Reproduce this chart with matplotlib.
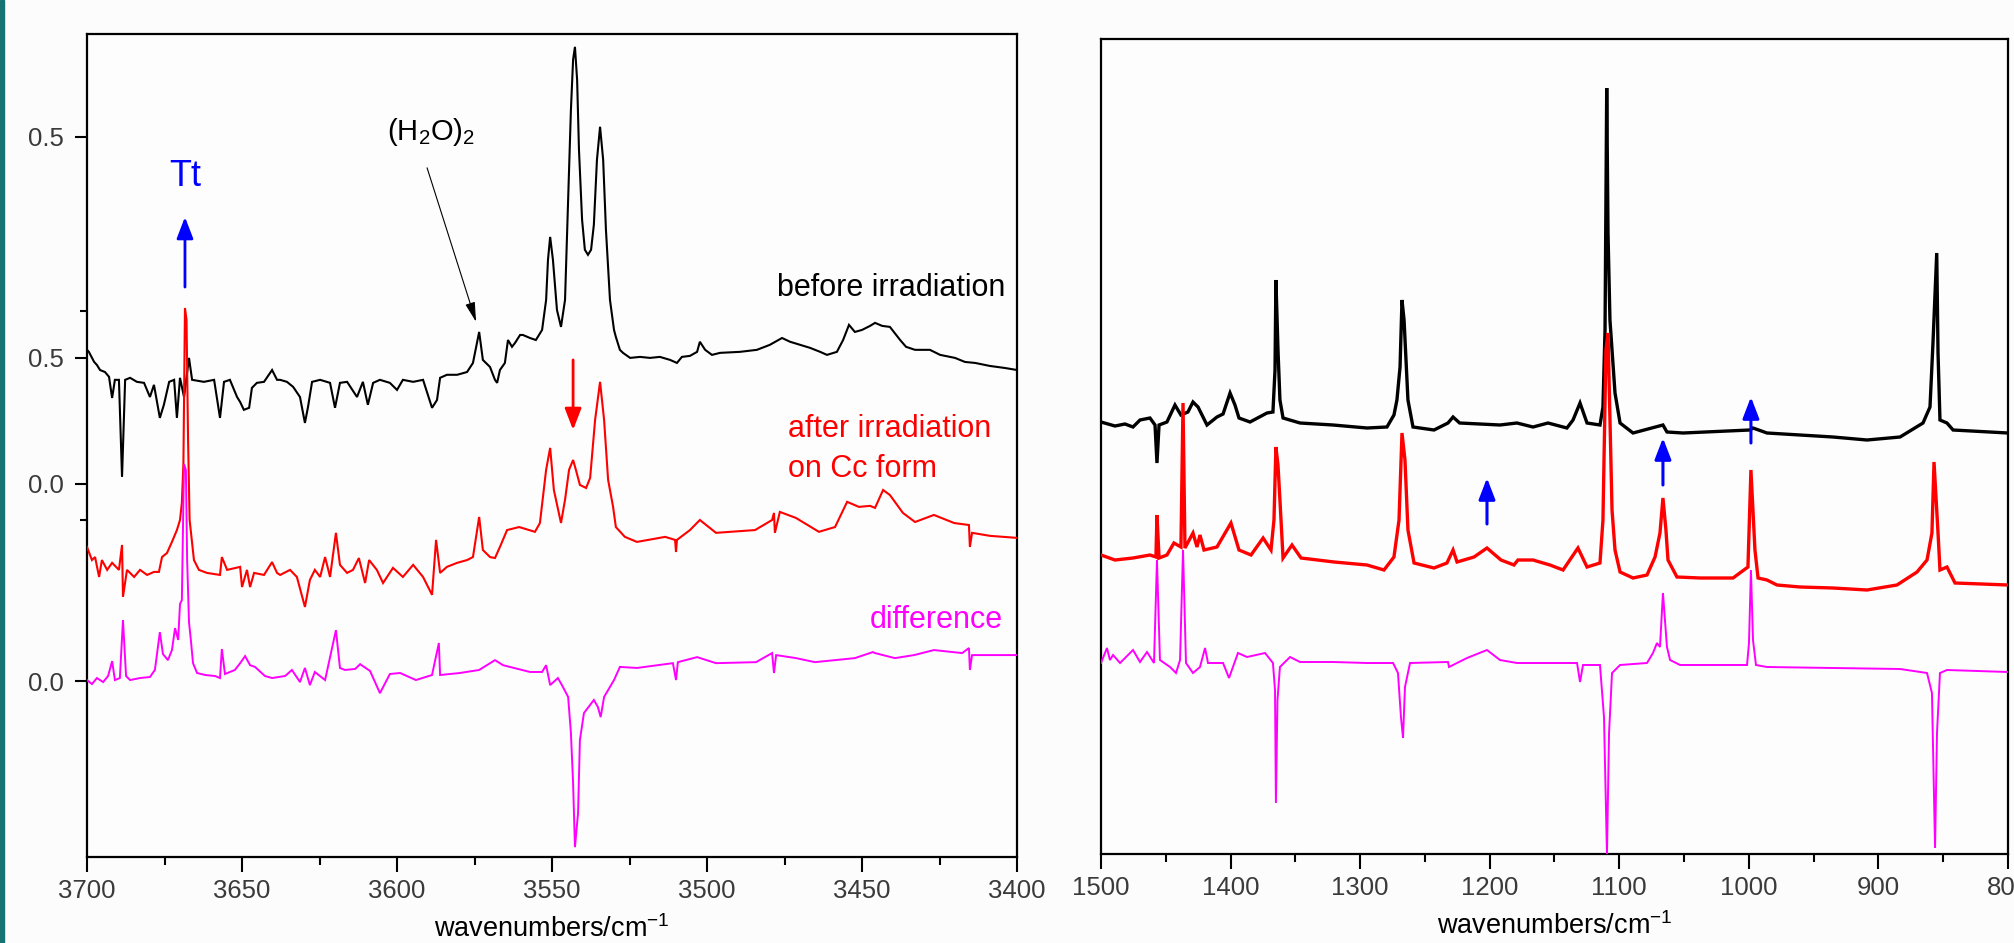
import matplotlib.pyplot as plt
from matplotlib.patches import Rectangle
from matplotlib.ticker import MultipleLocator, FixedLocator

plt.rcParams['font.family'] = ['Liberation Sans', 'DejaVu Sans']
plt.rcParams['mathtext.fontset'] = 'custom'
plt.rcParams['mathtext.rm'] = 'Liberation Sans'
plt.rcParams['mathtext.it'] = 'Liberation Sans:italic'
plt.rcParams['mathtext.default'] = 'regular'

# ---- O-H stretching region, (wavenumber, absorbance) ----
oh_before = [
    (3700, -0.345), (3699.4, -0.353), (3697.7, -0.393), (3696.8, -0.405), (3695.8, -0.425),
    (3694.2, -0.433), (3692.9, -0.452), (3691.9, -0.536), (3691.0, -0.464), (3689.7, -0.464),
    (3688.7, -0.849), (3687.7, -0.464), (3686.1, -0.456), (3683.9, -0.472), (3681.6, -0.476),
    (3679.7, -0.532), (3678.4, -0.484), (3676.5, -0.615), (3675.2, -0.563), (3673.5, -0.472),
    (3671.9, -0.464), (3671.0, -0.615), (3670.0, -0.456), (3668.7, -0.532), (3667.1, -0.377),
    (3666.1, -0.464), (3662.3, -0.472), (3659.0, -0.464), (3657.1, -0.615), (3655.8, -0.472),
    (3653.9, -0.464), (3651.6, -0.532), (3650.6, -0.552), (3649.4, -0.583), (3647.7, -0.575),
    (3646.8, -0.496), (3645.2, -0.476), (3642.9, -0.472), (3640.3, -0.425), (3638.7, -0.464),
    (3637.7, -0.464), (3635.5, -0.472), (3633.5, -0.492), (3631.3, -0.532), (3629.7, -0.635),
    (3628.7, -0.571), (3627.4, -0.472), (3624.8, -0.464), (3621.6, -0.476), (3620.0, -0.575),
    (3618.4, -0.476), (3616.1, -0.472), (3612.9, -0.532), (3611.0, -0.472), (3609.4, -0.563),
    (3607.7, -0.476), (3605.5, -0.464), (3602.3, -0.476), (3600.0, -0.504), (3598.1, -0.464),
    (3594.8, -0.472), (3591.6, -0.464), (3588.7, -0.575), (3587.1, -0.544), (3586.1, -0.456),
    (3583.9, -0.444), (3580.6, -0.444), (3577.4, -0.433), (3575.5, -0.397), (3574.2, -0.317),
    (3573.5, -0.274), (3572.3, -0.385), (3570.0, -0.413), (3568.4, -0.464), (3567.7, -0.476),
    (3566.8, -0.425), (3565.2, -0.397), (3564.2, -0.306), (3562.9, -0.333), (3561.9, -0.317),
    (3560.3, -0.286), (3559.4, -0.286), (3557.1, -0.298), (3555.2, -0.306), (3553.2, -0.266),
    (3551.9, -0.147), (3551.3, 0.012), (3550.6, 0.103), (3549.7, 0.012), (3548.4, -0.187),
    (3547.1, -0.254), (3545.8, -0.147), (3544.8, 0.250), (3543.9, 0.607), (3543.2, 0.806),
    (3542.6, 0.857), (3541.9, 0.726), (3541.3, 0.448), (3540.3, 0.171), (3539.4, 0.052),
    (3538.4, 0.032), (3537.4, 0.052), (3536.5, 0.151), (3535.5, 0.409), (3534.5, 0.540),
    (3533.5, 0.409), (3532.6, 0.131), (3531.3, -0.147), (3530.0, -0.266), (3529.4, -0.294),
    (3528.1, -0.345), (3527.1, -0.357), (3524.8, -0.377), (3521.6, -0.373), (3518.4, -0.377),
    (3515.2, -0.373), (3511.9, -0.385), (3509.7, -0.397), (3508.1, -0.373), (3505.5, -0.369),
    (3503.2, -0.353), (3502.3, -0.313), (3500.6, -0.345), (3498.4, -0.365), (3495.8, -0.357),
    (3489.4, -0.353), (3483.9, -0.345), (3479.7, -0.325), (3475.8, -0.298), (3473.2, -0.313),
    (3470.0, -0.325), (3466.8, -0.337), (3463.5, -0.353), (3461.3, -0.365), (3458.1, -0.353),
    (3456.1, -0.306), (3454.2, -0.246), (3452.3, -0.274), (3450.0, -0.266), (3447.4, -0.250),
    (3445.8, -0.238), (3443.5, -0.250), (3441.0, -0.254), (3437.7, -0.306), (3435.8, -0.333),
    (3432.9, -0.345), (3428.1, -0.345), (3424.8, -0.365), (3420.0, -0.377), (3416.8, -0.393),
    (3413.5, -0.397), (3408.7, -0.409), (3403.9, -0.417), (3400.0, -0.425),
]

oh_after = [
    (3700, -0.250), (3699.4, -0.270), (3698.4, -0.302), (3697.4, -0.290), (3696.1, -0.369),
    (3695.2, -0.302), (3693.5, -0.341), (3691.9, -0.313), (3689.7, -0.341), (3688.7, -0.242),
    (3688.4, -0.448), (3687.1, -0.341), (3684.8, -0.369), (3682.9, -0.341), (3680.6, -0.361),
    (3678.4, -0.349), (3676.8, -0.349), (3675.8, -0.290), (3674.2, -0.274), (3672.6, -0.230),
    (3671.0, -0.183), (3670.0, -0.143), (3669.4, -0.075), (3668.9, 0.083), (3668.4, 0.698),
    (3667.9, 0.651), (3667.4, 0.175), (3666.9, -0.143), (3665.5, -0.302), (3663.9, -0.341),
    (3661.3, -0.353), (3657.1, -0.361), (3656.5, -0.290), (3654.8, -0.341), (3650.6, -0.329),
    (3650.0, -0.409), (3648.4, -0.341), (3647.4, -0.409), (3646.1, -0.353), (3642.9, -0.361),
    (3640.3, -0.310), (3638.7, -0.353), (3637.7, -0.361), (3634.5, -0.341), (3632.3, -0.369),
    (3629.7, -0.488), (3628.1, -0.381), (3626.5, -0.341), (3624.8, -0.369), (3623.2, -0.290),
    (3621.6, -0.369), (3619.7, -0.194), (3618.4, -0.321), (3616.1, -0.353), (3614.2, -0.341),
    (3612.3, -0.294), (3610.3, -0.393), (3609.0, -0.302), (3606.5, -0.341), (3604.5, -0.393),
    (3601.3, -0.333), (3598.1, -0.369), (3594.8, -0.321), (3591.6, -0.369), (3588.7, -0.440),
    (3587.4, -0.222), (3586.1, -0.353), (3583.9, -0.329), (3580.6, -0.313), (3577.4, -0.302),
    (3575.5, -0.290), (3573.5, -0.131), (3572.3, -0.262), (3570.0, -0.290), (3568.4, -0.294),
    (3566.8, -0.250), (3564.5, -0.183), (3560.6, -0.171), (3555.5, -0.190), (3553.9, -0.155),
    (3551.9, 0.056), (3550.6, 0.143), (3549.4, -0.024), (3547.1, -0.155), (3545.8, -0.063),
    (3544.5, 0.056), (3543.2, 0.095), (3542.3, 0.056), (3541.0, -0.004), (3539.0, -0.016),
    (3537.7, 0.024), (3536.1, 0.254), (3534.5, 0.405), (3533.2, 0.254), (3531.9, 0.016),
    (3530.3, -0.091), (3529.4, -0.171), (3526.5, -0.210), (3522.6, -0.230), (3513.5, -0.210),
    (3510.3, -0.222), (3510.0, -0.270), (3509.7, -0.222), (3505.5, -0.183), (3502.3, -0.143),
    (3497.1, -0.194), (3484.5, -0.183), (3479.0, -0.143), (3478.4, -0.115), (3478.1, -0.194),
    (3476.5, -0.111), (3471.3, -0.135), (3463.9, -0.190), (3458.7, -0.171), (3454.8, -0.071),
    (3451.0, -0.091), (3447.4, -0.087), (3445.8, -0.095), (3443.2, -0.024), (3441.0, -0.044),
    (3436.8, -0.115), (3432.9, -0.151), (3426.8, -0.123), (3420.3, -0.155), (3415.5, -0.163),
    (3415.2, -0.250), (3414.5, -0.194), (3408.7, -0.206), (3400, -0.214),
]

oh_diff = [
    (3700, 0.004), (3698.4, -0.012), (3696.8, 0.012), (3694.8, -0.004), (3693.2, 0.020),
    (3691.9, 0.079), (3691.0, 0.004), (3689.4, 0.012), (3688.4, 0.242), (3687.4, 0.020),
    (3686.1, 0.004), (3682.9, 0.012), (3679.7, 0.016), (3678.1, 0.044), (3676.5, 0.194),
    (3675.5, 0.107), (3673.9, 0.083), (3672.6, 0.123), (3671.6, 0.210), (3670.6, 0.163),
    (3670.0, 0.306), (3669.4, 0.321), (3669.0, 0.639), (3668.7, 0.861), (3668.1, 0.837),
    (3667.7, 0.480), (3667.1, 0.234), (3666.5, 0.163), (3665.8, 0.071), (3664.5, 0.032),
    (3661.9, 0.024), (3658.7, 0.020), (3657.1, 0.012), (3656.5, 0.127), (3655.5, 0.028),
    (3652.3, 0.044), (3650.6, 0.071), (3649.0, 0.099), (3647.4, 0.063), (3645.8, 0.056),
    (3642.6, 0.020), (3640.3, 0.012), (3636.1, 0.020), (3633.9, 0.044), (3631.3, -0.004),
    (3629.7, 0.052), (3628.1, -0.016), (3626.5, 0.036), (3623.2, 0.004), (3619.7, 0.202),
    (3618.4, 0.052), (3616.8, 0.044), (3613.5, 0.048), (3611.9, 0.067), (3608.7, 0.040),
    (3605.5, -0.048), (3602.3, 0.028), (3599.0, 0.032), (3593.9, 0.004), (3588.7, 0.024),
    (3586.5, 0.151), (3586.1, 0.024), (3579.7, 0.032), (3573.5, 0.044), (3568.4, 0.083),
    (3565.8, 0.063), (3557.1, 0.036), (3553.2, 0.036), (3551.9, 0.063), (3550.6, -0.016),
    (3548.1, 0.012), (3546.8, -0.016), (3544.8, -0.063), (3543.9, -0.206), (3543.2, -0.405),
    (3542.6, -0.659), (3541.6, -0.524), (3541.0, -0.234), (3539.7, -0.127), (3536.5, -0.075),
    (3535.2, -0.103), (3534.3, -0.143), (3533.2, -0.063), (3530.0, 0.004), (3528.1, 0.056),
    (3522.6, 0.052), (3511.0, 0.071), (3510.0, 0.004), (3509.4, 0.075), (3503.2, 0.095),
    (3497.1, 0.071), (3484.2, 0.075), (3479.0, 0.111), (3478.4, 0.032), (3477.7, 0.103),
    (3471.3, 0.091), (3465.2, 0.075), (3452.3, 0.091), (3446.5, 0.115), (3445.8, 0.111),
    (3439.4, 0.091), (3433.2, 0.103), (3426.8, 0.123), (3417.7, 0.111), (3415.5, 0.131),
    (3415.2, 0.044), (3414.5, 0.103), (3400, 0.103),
]

# ---- fingerprint region, (wavenumber, absorbance) ----
fp_before = [
    (1500, 0.032), (1489.2, 0.016), (1481.5, 0.024), (1475.3, 0.012), (1469.9, 0.040),
    (1462.2, 0.048), (1458.3, 0.020), (1456.8, -0.132), (1455.2, 0.020), (1449.1, 0.032),
    (1442.9, 0.100), (1438.3, 0.060), (1432.9, 0.072), (1429.0, 0.112), (1425.1, 0.092),
    (1418.2, 0.020), (1410.5, 0.052), (1405.8, 0.064), (1400.4, 0.148), (1396.6, 0.100),
    (1393.5, 0.048), (1385.0, 0.032), (1371.9, 0.068), (1367.3, 0.072), (1365.7, 0.240),
    (1365.0, 0.600), (1363.4, 0.320), (1361.9, 0.120), (1359.5, 0.048), (1346.4, 0.028),
    (1320.9, 0.020), (1294.7, 0.008), (1279.3, 0.012), (1273.9, 0.060), (1271.6, 0.120),
    (1269.2, 0.252), (1267.7, 0.520), (1266.1, 0.440), (1264.6, 0.280), (1263.1, 0.120),
    (1259.2, 0.012), (1243.0, 0.000), (1232.2, 0.028), (1228.3, 0.052), (1223.2, 0.028),
    (1192.1, 0.020), (1179.0, 0.028), (1166.6, 0.012), (1155.0, 0.028), (1140.4, 0.008),
    (1135.7, 0.040), (1130.3, 0.108), (1124.9, 0.028), (1114.9, 0.020), (1112.6, 0.092),
    (1111.0, 0.400), (1109.7, 1.368), (1108.7, 0.788), (1107.2, 0.440), (1103.3, 0.148),
    (1099.4, 0.028), (1089.4, -0.012), (1066.3, 0.020), (1063.2, -0.008), (1050.8, -0.012),
    (999.1, 0.000), (996.8, 0.008), (986.0, -0.012), (935.1, -0.028), (908.8, -0.040),
    (883.3, -0.028), (865.6, 0.028), (860.2, 0.092), (857.9, 0.348), (855.0, 0.708),
    (854.0, 0.308), (852.5, 0.040), (847.1, 0.028), (842.4, 0.000), (800, -0.012),
]

fp_after = [
    (1500, 0.040), (1489.2, 0.020), (1475.3, 0.028), (1462.2, 0.040), (1457.6, 0.032),
    (1456.8, 0.200), (1455.2, 0.028), (1449.1, 0.040), (1443.7, 0.088), (1438.3, 0.072),
    (1436.7, 0.648), (1435.2, 0.068), (1429.0, 0.128), (1425.9, 0.072), (1423.6, 0.120),
    (1420.5, 0.060), (1410.5, 0.072), (1399.7, 0.168), (1393.5, 0.060), (1384.2, 0.040),
    (1374.9, 0.108), (1368.8, 0.060), (1366.5, 0.180), (1365.0, 0.472), (1363.4, 0.400),
    (1361.9, 0.260), (1359.5, 0.028), (1352.6, 0.080), (1345.6, 0.028), (1320.1, 0.012),
    (1294.7, 0.000), (1281.6, -0.020), (1273.9, 0.032), (1270.0, 0.180), (1267.7, 0.528),
    (1265.4, 0.420), (1263.1, 0.140), (1258.4, 0.008), (1243.0, -0.012), (1233.0, 0.008),
    (1228.3, 0.060), (1225.2, 0.012), (1212.1, 0.032), (1202.1, 0.068), (1191.3, 0.020),
    (1181.3, 0.000), (1178.2, 0.020), (1166.6, 0.020), (1153.5, 0.000), (1143.4, -0.020),
    (1131.9, 0.068), (1124.9, -0.008), (1114.9, 0.008), (1112.6, 0.180), (1110.3, 0.860),
    (1108.7, 0.928), (1105.6, 0.220), (1103.3, 0.060), (1099.4, -0.028), (1089.4, -0.052),
    (1078.6, -0.040), (1072.4, 0.032), (1068.6, 0.128), (1066.3, 0.268), (1064.0, 0.140),
    (1062.4, 0.020), (1055.5, -0.048), (1037.7, -0.052), (1012.2, -0.052), (1000.7, -0.008),
    (998.4, 0.380), (995.3, 0.060), (992.9, -0.052), (986.0, -0.060), (978.3, -0.080),
    (960.5, -0.088), (935.1, -0.092), (908.8, -0.100), (885.7, -0.080), (870.2, -0.028),
    (862.5, 0.020), (858.7, 0.128), (857.1, 0.412), (854.0, 0.128), (852.5, -0.020),
    (847.1, -0.008), (840.9, -0.072), (800, -0.080),
]

fp_diff = [
    (1500, 0.000), (1495.4, 0.060), (1493.1, 0.012), (1490.7, 0.032), (1485.3, 0.000),
    (1475.3, 0.052), (1469.9, 0.004), (1464.5, 0.044), (1459.1, 0.000), (1456.8, 0.412),
    (1454.5, 0.012), (1446.7, -0.016), (1442.1, -0.040), (1439.0, 0.012), (1436.7, 0.452),
    (1434.4, 0.000), (1429.0, -0.040), (1423.6, -0.016), (1419.7, 0.060), (1417.4, 0.000),
    (1405.8, 0.000), (1401.2, -0.060), (1394.3, 0.040), (1387.3, 0.024), (1373.4, 0.040),
    (1367.3, 0.000), (1365.7, -0.108), (1365.0, -0.560), (1363.8, -0.148), (1361.9, -0.016),
    (1354.1, 0.024), (1346.4, 0.004), (1320.9, 0.004), (1294.7, 0.000), (1274.6, 0.000),
    (1270.8, -0.040), (1268.5, -0.216), (1266.9, -0.300), (1265.4, -0.096), (1261.5, 0.000),
    (1232.2, 0.004), (1231.4, -0.016), (1217.5, 0.020), (1202.1, 0.052), (1192.1, 0.012),
    (1179.0, 0.000), (1140.4, 0.000), (1132.6, 0.000), (1130.3, -0.076), (1128.0, -0.008),
    (1114.9, -0.008), (1111.8, -0.216), (1109.5, -0.768), (1107.9, -0.280), (1105.6, -0.040),
    (1099.4, -0.008), (1078.6, 0.000), (1074.0, 0.040), (1070.9, 0.080), (1068.6, 0.064),
    (1066.3, 0.280), (1063.2, 0.064), (1060.8, 0.012), (1053.1, -0.008), (1001.4, -0.008),
    (999.9, 0.080), (998.4, 0.372), (996.8, 0.092), (994.5, -0.008), (986.0, -0.016),
    (935.1, -0.020), (883.3, -0.024), (862.5, -0.040), (858.7, -0.120), (856.3, -0.740),
    (854.8, -0.280), (852.5, -0.040), (847.1, -0.028), (800, -0.036),
]

# vertical stacking offsets of the spectra
oh_offsets = [1.659, 0.782, 0.0]   # before, after, difference
fp_offsets = [0.932, 0.392, 0.0]

oh_ytick_labels = ['0.0', '0.0', '0.5', '0.5']
oh_ytick_values = [0.0, 0.0, 0.5, 0.5]   # value on the trace the tick belongs to
oh_ytick_trace = [2, 1, 1, 0]

colors = ['black', '#ff0000', '#ff00ff']
label_color = '#3a3a3a'

fig = plt.figure(figsize=(20.14, 9.43), dpi=100, facecolor='#fcfcfc')
fig.patches.append(Rectangle((0, 0), 3.5 / 2014, 1, transform=fig.transFigure,
                             color='#177272', zorder=5))

ax1 = fig.add_axes([0.04320, 0.09120, 0.46177, 0.87275])
ax2 = fig.add_axes([0.54667, 0.09438, 0.45035, 0.86426])


def draw(ax, traces, offsets, widths):
    for k, tr in enumerate(traces):
        wn, a = zip(*tr)
        ax.plot(wn, [v + offsets[k] for v in a], color=colors[k], lw=widths[k],
                solid_joinstyle='miter', zorder=2 + k)


draw(ax1, [oh_before, oh_after, oh_diff], oh_offsets, [1.5, 1.5, 1.4])
draw(ax2, [fp_before, fp_after, fp_diff], fp_offsets, [2.4, 2.4, 1.4])

ax1.set_xlim(3700, 3400)
ax1.set_ylim(-0.698, 2.567)
ax2.set_xlim(1500, 800)
ax2.set_ylim(-0.764, 2.496)

for ax in (ax1, ax2):
    ax.set_facecolor('#fdfdfd')
    for s in ax.spines.values():
        s.set_linewidth(1.6)
    ax.tick_params(axis='x', which='major', length=10.5, width=1.5, pad=5,
                   labelsize=18.5, labelcolor=label_color)
    ax.tick_params(axis='x', which='minor', length=6, width=1.5)
    ax.set_xlabel(r'wavenumbers/cm$^{-1}$', fontsize=19.5, labelpad=9)

ax1.xaxis.set_major_locator(MultipleLocator(50))
ax1.xaxis.set_minor_locator(MultipleLocator(25))
ax2.xaxis.set_major_locator(MultipleLocator(100))
ax2.xaxis.set_minor_locator(MultipleLocator(50))

ypos = [oh_offsets[t] + v for t, v in zip(oh_ytick_trace, oh_ytick_values)]
ax1.yaxis.set_major_locator(FixedLocator(ypos))
ax1.set_yticklabels(oh_ytick_labels)
ax1.yaxis.set_minor_locator(FixedLocator([0.64, 1.47]))
ax1.tick_params(axis='y', which='major', length=8.6, width=1.5, pad=8,
                labelsize=18.5, labelcolor=label_color)
ax1.tick_params(axis='y', which='minor', length=5, width=1.5)
ax2.tick_params(axis='y', which='both', left=False, labelleft=False)

# labels of the spectra
ax1.text(3403.9, 1.528, 'before irradiation', fontsize=22, ha='right', va='baseline')
ax1.text(3473.9, 0.968, 'after irradiation', fontsize=22, color='#ff0000', va='baseline')
ax1.text(3473.9, 0.810, 'on Cc form', fontsize=22, color='#ff0000', va='baseline')
ax1.text(3404.5, 0.210, 'difference', fontsize=22, color='#ff00ff', ha='right', va='baseline')
ax1.text(3668.4, 1.964, 'Tt', fontsize=26, color='#0000ff', ha='center', va='baseline')
ax1.text(3603.2, 2.147, r'(H$_2$O)$_2$', fontsize=21, va='baseline')


def arrow(ax, x0, y0, x1, y1, color, lw, hl, hw):
    ax.annotate('', xy=(x1, y1), xytext=(x0, y0),
                arrowprops=dict(arrowstyle=f'-|>,head_length={hl},head_width={hw}',
                                color=color, lw=lw, shrinkA=0, shrinkB=0,
                                mutation_scale=20), zorder=6)


arrow(ax1, 3668.4, 1.563, 3668.4, 1.841, '#0000ff', 2.0, 0.65, 0.25)
arrow(ax1, 3543.2, 1.274, 3543.2, 0.996, '#ff0000', 2.0, 0.65, 0.25)
arrow(ax1, 3590.3, 2.036, 3574.5, 1.425, 'black', 0.8, 0.6, 0.15)
arrow(ax2, 1202.1, 0.556, 1202.1, 0.740, '#0000ff', 2.2, 0.65, 0.25)
arrow(ax2, 1066.3, 0.712, 1066.3, 0.900, '#0000ff', 2.2, 0.65, 0.25)
arrow(ax2, 998.4, 0.880, 998.4, 1.064, '#0000ff', 2.2, 0.65, 0.25)

fig.savefig('out.png', dpi=100, facecolor=fig.get_facecolor())
